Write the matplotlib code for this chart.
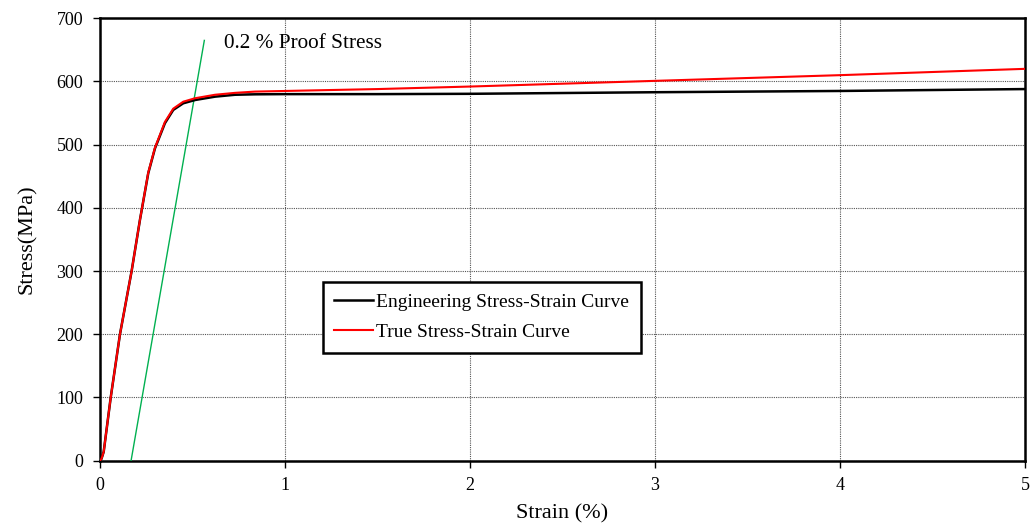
import matplotlib
matplotlib.use("Agg")
import matplotlib.pyplot as plt

# Engineering stress-strain curve
eng_strain = [0, 0.008, 0.02, 0.058, 0.108, 0.171, 0.216, 0.261, 0.297, 0.351, 0.396,
              0.45, 0.514, 0.622, 0.73, 0.838, 1.0, 1.5, 2.0, 3.0, 4.0, 5.0]
eng_stress = [0, 3, 14, 100, 200, 300, 381, 455, 494, 534, 555,
              565.5, 570.7, 576, 579, 579.7, 580, 580, 580.5, 583, 585, 588]

# True stress-strain curve
true_strain = [0, 0.008, 0.02, 0.058, 0.108, 0.171, 0.216, 0.261, 0.297, 0.351, 0.396,
               0.45, 0.514, 0.622, 0.73, 0.838, 1.0, 1.5, 2.0, 3.0, 4.0, 5.0]
true_stress = [0, 3, 14, 100, 200, 300, 381, 456, 495, 536, 557,
               568, 573.5, 579, 582, 584, 585, 588, 592, 601, 610, 620]

# 0.2 % offset line
offset_strain = [0.168, 0.564]
offset_stress = [0, 665]

x_ticks = [0, 1, 2, 3, 4, 5]
y_ticks = [0, 100, 200, 300, 400, 500, 600, 700]

plt.rcParams['font.family'] = ['Liberation Serif', 'DejaVu Serif']

fig = plt.figure(figsize=(10.34, 5.30), dpi=100)
ax = fig.add_axes([0.0967, 0.1308, 0.8946, 0.8347])

ax.plot(offset_strain, offset_stress, color='#00b050', lw=1.0, zorder=3)
ax.plot(eng_strain, eng_stress, color='black', lw=1.8, zorder=4,
        label='Engineering Stress-Strain Curve')
ax.plot(true_strain, true_stress, color='#ff0000', lw=1.5, zorder=5,
        label='True Stress-Strain Curve')

ax.text(0.67, 660, '0.2 % Proof Stress', fontsize=15.3, ha='left', va='center')

ax.set_xlim(0, 5)
ax.set_ylim(0, 700)
ax.set_xticks(x_ticks)
ax.set_yticks(y_ticks)
ax.tick_params(labelsize=13, direction='out', length=5, width=1, pad=7)
ax.grid(True, color='#555555', linestyle=(0, (1, 1)), lw=0.8)
ax.set_axisbelow(True)
for s in ax.spines.values():
    s.set_linewidth(1.8)

ax.set_xlabel('Strain (%)', fontsize=16, labelpad=7)
ax.set_ylabel('Stress(MPa)', fontsize=16, labelpad=14)

leg = ax.legend(loc='upper left', bbox_to_anchor=(0.2408, 0.4046), fontsize=14,
                frameon=True, fancybox=False, handlelength=2.0, handletextpad=0.15,
                borderpad=0.6, labelspacing=0.65, borderaxespad=0)
leg.get_frame().set_edgecolor('black')
leg.get_frame().set_linewidth(1.8)
leg.get_frame().set_facecolor('white')
leg.get_frame().set_alpha(1)

fig.savefig('out.png', dpi=100)
